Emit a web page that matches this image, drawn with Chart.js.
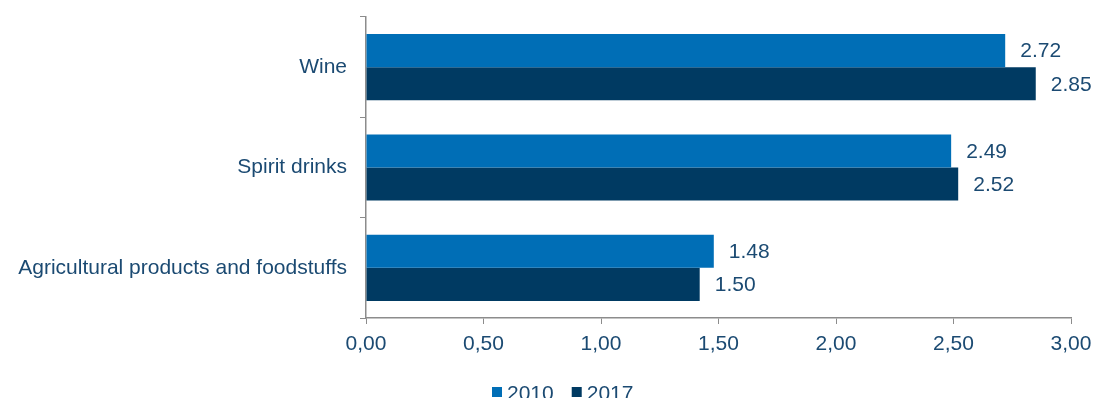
<!DOCTYPE html>
<html>
<head>
<meta charset="utf-8">
<script src="https://cdn.jsdelivr.net/npm/chart.js@4"></script>
<style>
  html, body { margin: 0; padding: 0; background: #fff; }
  #wrap { width: 1096px; height: 398px; }
</style>
</head>
<body>
<div id="wrap"><canvas id="chart" width="1096" height="398"></canvas></div>
<script>
// categorieën en waarden
const categories = ["Wine", "Spirit drinks", "Agricultural products and foodstuffs"];
const values2010 = [2.72, 2.49, 1.48];
const values2017 = [2.85, 2.52, 1.42];
// labels zoals ze op de grafiek staan
const labels2010 = ["2.72", "2.49", "1.48"];
const labels2017 = ["2.85", "2.52", "1.50"];
const xTicks = [0, 0.5, 1, 1.5, 2, 2.5, 3];

const textColor = "#1b4a72";
const axisColor = "#8c8c8c";
const fontFamily = "Liberation Sans, Arial, sans-serif";
const font = { family: fontFamily, size: 21 };

// waarde-labels achter elke balk
const valueLabels = {
  id: "valueLabels",
  afterDatasetsDraw(chart) {
    const ctx = chart.ctx;
    const sets = [labels2010, labels2017];
    ctx.save();
    ctx.font = "21px " + fontFamily;
    ctx.fillStyle = textColor;
    ctx.textAlign = "left";
    ctx.textBaseline = "middle";
    chart.data.datasets.forEach((ds, i) => {
      chart.getDatasetMeta(i).data.forEach((bar, j) => {
        ctx.fillText(sets[i][j], bar.x + 15, bar.y + 1);
      });
    });
    ctx.restore();
  },
};

// eigen legenda onderaan (kleiner gat tussen blokje en tekst)
const bottomLegend = {
  id: "bottomLegend",
  afterDraw(chart) {
    const ctx = chart.ctx;
    ctx.save();
    ctx.font = "21px " + fontFamily;
    ctx.textBaseline = "alphabetic";
    let x = 492;
    chart.data.datasets.forEach((ds) => {
      ctx.fillStyle = ds.backgroundColor;
      ctx.fillRect(x, 387, 10, 10);
      ctx.fillStyle = textColor;
      ctx.fillText(ds.label, x + 15, 400);
      x += 15 + ctx.measureText(ds.label).width + 18;
    });
    ctx.restore();
  },
};

new Chart(document.getElementById("chart").getContext("2d"), {
  type: "bar",
  data: {
    labels: categories,
    datasets: [
      {
        label: "2010",
        data: values2010,
        backgroundColor: "#006eb6",
        borderWidth: 0,
        categoryPercentage: 0.66,
        barPercentage: 1.0,
      },
      {
        label: "2017",
        data: values2017,
        backgroundColor: "#003a62",
        borderWidth: 0,
        categoryPercentage: 0.66,
        barPercentage: 1.0,
      },
    ],
  },
  options: {
    indexAxis: "y",
    responsive: false,
    animation: false,
    layout: { padding: { top: 17, right: 25, left: 0, bottom: 30 } },
    plugins: {
      tooltip: { enabled: false },
      legend: { display: false },
    },
    scales: {
      x: {
        min: 0,
        max: 3,
        afterBuildTicks: (scale) => {
          scale.ticks = xTicks.map((v) => ({ value: v }));
        },
        afterFit: (scale) => {
          scale.height = 50;
          scale.paddingLeft = 0;
          scale.paddingRight = 0;
        },
        ticks: {
          color: textColor,
          font: font,
          padding: 8,
          maxRotation: 0,
          callback: (v) => v.toFixed(2).replace(".", ","),
        },
        grid: {
          drawOnChartArea: false,
          drawTicks: true,
          tickLength: 6,
          color: axisColor,
        },
        border: { color: axisColor, width: 1.5 },
      },
      y: {
        afterFit: (scale) => {
          scale.width = 366;
          scale.paddingTop = 0;
          scale.paddingBottom = 0;
        },
        ticks: {
          color: textColor,
          font: font,
          padding: 13,
        },
        grid: {
          drawOnChartArea: false,
          offset: true,
          tickLength: 6,
          color: axisColor,
        },
        border: { color: axisColor, width: 1.5 },
      },
    },
  },
  plugins: [valueLabels, bottomLegend],
});
</script>
</body>
</html>
